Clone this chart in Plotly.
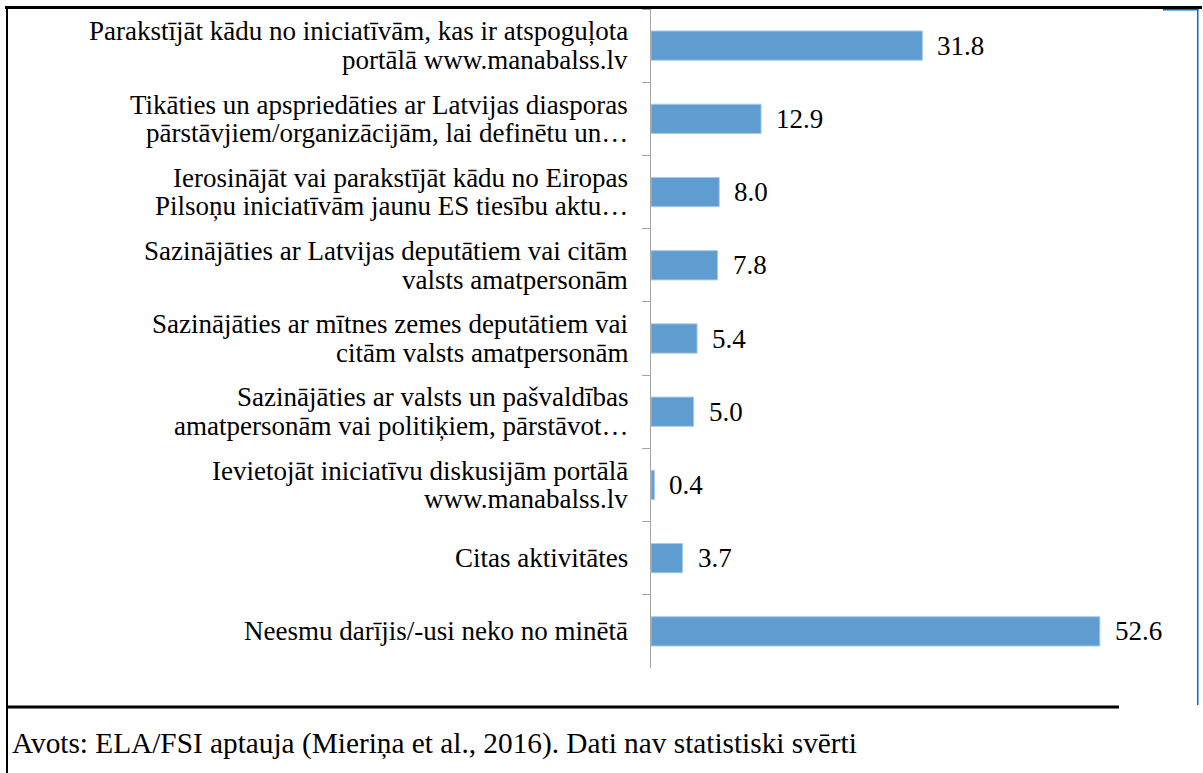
import plotly.graph_objects as go

# survey answers, top to bottom as in the source chart
labels = [
    "Parakstījāt kādu no iniciatīvām, kas ir atspoguļota<br>portālā www.manabalss.lv",
    "Tikāties un apspriedāties ar Latvijas diasporas<br>pārstāvjiem/organizācijām, lai definētu un…",
    "Ierosinājāt vai parakstījāt kādu no Eiropas<br>Pilsoņu iniciatīvām jaunu ES tiesību aktu…",
    "Sazinājāties ar Latvijas deputātiem vai citām<br>valsts amatpersonām",
    "Sazinājāties ar mītnes zemes deputātiem vai<br>citām valsts amatpersonām",
    "Sazinājāties ar valsts un pašvaldības<br>amatpersonām vai politiķiem, pārstāvot…",
    "Ievietojāt iniciatīvu diskusijām portālā<br>www.manabalss.lv",
    "Citas aktivitātes",
    "Neesmu darījis/-usi neko no minētā",
]
values = [31.8, 12.9, 8.0, 7.8, 5.4, 5.0, 0.4, 3.7, 52.6]
source_note = "Avots: ELA/FSI aptauja (Mieriņa et al., 2016). Dati nav statistiski svērti"

W, H = 1203, 773
L, R, T, B = 651, 1163, 9, 668  # plot area in pixels
FONT = "Liberation Serif"
LABEL_SIZE = 27
LINE_GAP = 28.5  # the source sets its two-line labels tighter than plotly's 1.3em


def px(x):
    return (x - L) / (R - L)


def py(y):
    return (B - y) / (B - T)


fig = go.Figure()
fig.add_trace(go.Bar(
    x=values, y=labels, orientation="h",
    marker=dict(color="#5f9dd1", line=dict(color="#a9cbe9", width=1)),
    width=0.4, hoverinfo="x",
))

# category labels, one annotation per text line so the line spacing can match
for lab in labels:
    parts = lab.split("<br>")
    n = len(parts)
    for i, part in enumerate(parts):
        fig.add_annotation(
            x=px(630), xref="paper", y=lab, yref="y", text=part, showarrow=False,
            xanchor="right", yanchor="middle", yshift=(n - 1) / 2 * LINE_GAP - i * LINE_GAP,
            font=dict(family=FONT, size=LABEL_SIZE, color="black"),
        )

for v, lab in zip(values, labels):
    fig.add_annotation(
        x=v, y=lab, text=f"{v:.1f}", showarrow=False,
        xanchor="left", xshift=13, font=dict(family=FONT, size=LABEL_SIZE, color="black"),
    )

fig.add_annotation(
    x=px(10), y=py(743), xref="paper", yref="paper", text=source_note,
    showarrow=False, xanchor="left", yanchor="middle",
    font=dict(family=FONT, size=29.3, color="black"),
)

# frame pieces around the figure, as filled strips (x0, y0, x1, y1, colour)
frame = [
    (6, 6, 8, 773, "black"),
    (7, 705.5, 1119, 708.5, "black"),
    (1163, 9, 1198.5, 10.5, "#0070c0"),
    (1197, 9, 1198.5, 705, "#0070c0"),
]
for x0, y0, x1, y1, col in frame:
    fig.add_shape(type="rect", xref="paper", yref="paper", layer="above",
                  x0=px(x0), y0=py(y1), x1=px(x1), y1=py(y0),
                  fillcolor=col, line=dict(width=0))

# top rule of the frame, as a plain line shape in the layer below the plot
fig.add_shape(type="line", xref="paper", yref="paper", layer="below",
              x0=px(5), x1=px(1202), y0=py(7.5), y1=py(7.5),
              line=dict(color="black", width=3))

fig.update_layout(
    width=W, height=H,
    margin=dict(l=L, r=W - R, t=T, b=H - B, pad=0),
    plot_bgcolor="rgba(0,0,0,0)", paper_bgcolor="white",
    showlegend=False,
    font=dict(family=FONT, size=LABEL_SIZE, color="black"),
    xaxis=dict(range=[0, 60], visible=False, fixedrange=True),
    yaxis=dict(
        autorange="reversed", showline=True, linecolor="#a6a6a6", linewidth=1,
        ticks="outside", tickson="boundaries", ticklen=8, tickcolor="#a6a6a6",
        showgrid=False, showticklabels=False, automargin=False, fixedrange=True,
    ),
)

# the page's default 8px body margin would shift the whole figure
fig.write_html("out.html", config={"displayModeBar": False},
               post_script="document.body.style.margin='0'; window.scrollTo(0, 0);")
